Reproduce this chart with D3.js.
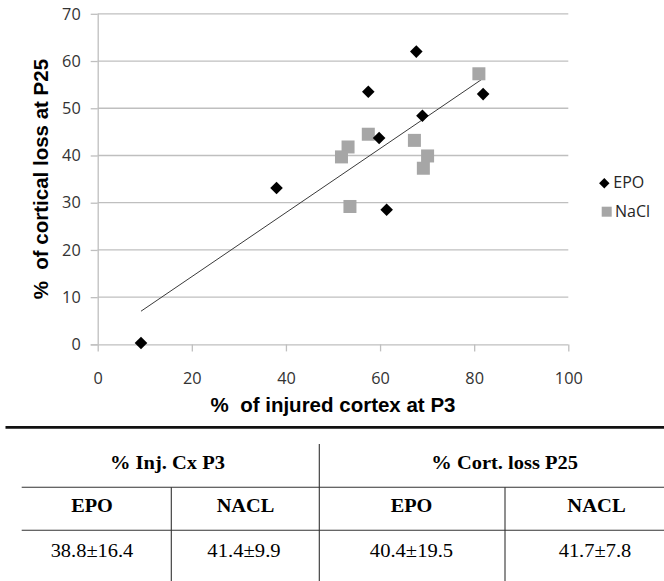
<!DOCTYPE html>
<html>
<head>
<meta charset="utf-8">
<script src="https://cdn.jsdelivr.net/npm/d3@7"></script>
<style>
  html, body { margin: 0; padding: 0; background: #fff; }
  svg { display: block; }
</style>
</head>
<body>
<svg id="chart" width="664" height="581"></svg>
<script>
// ---- data ----
const epoX = [9.2, 38.0, 57.5, 67.7, 81.9, 69.0, 59.8, 61.4];
const epoY = [0.3, 33.1, 53.5, 62.0, 53.0, 48.4, 43.7, 28.5];
const naclX = [81.0, 57.5, 53.2, 51.8, 67.3, 70.1, 69.2, 53.6];
const naclY = [57.3, 44.5, 41.8, 39.7, 43.2, 39.9, 37.3, 29.2];
const xTicks = [0, 20, 40, 60, 80, 100];
const yTicks = [0, 10, 20, 30, 40, 50, 60, 70];
const seriesNames = ["EPO", "NaCl"];
const xTitle = "%  of injured cortex at P3";
const yTitle = "%  of cortical loss at P25";
const tableGroups = ["% Inj. Cx P3", "% Cort. loss P25"];
const tableCols = ["EPO", "NACL", "EPO", "NACL"];
const tableValues = ["38.8±16.4", "41.4±9.9", "40.4±19.5", "41.7±7.8"];

const svg = d3.select("#chart");
const x = d3.scaleLinear().domain([0, 100]).range([97.7, 568.3]);
const y = d3.scaleLinear().domain([0, 70]).range([344.4, 13.8]);

const gridColor = "#bfbfbf";
const tickFont = "'Open Sans', 'Noto Sans', sans-serif";

// gridlines
svg.append("g").selectAll("line").data(yTicks.filter(d => d > 0)).join("line")
  .attr("x1", x(0)).attr("x2", x(100))
  .attr("y1", d => y(d)).attr("y2", d => y(d))
  .attr("stroke", gridColor).attr("stroke-width", 1.3);

// y axis
const yAxis = svg.append("g").attr("transform", `translate(${x(0)},0)`)
  .call(d3.axisLeft(y).tickValues(yTicks).tickSize(7).tickPadding(10));
// x axis
const xAxis = svg.append("g").attr("transform", `translate(0,${y(0)})`)
  .call(d3.axisBottom(x).tickValues(xTicks).tickSize(7).tickPadding(21));
[yAxis, xAxis].forEach(g => {
  g.select(".domain").attr("stroke", gridColor).attr("stroke-width", 1.3);
  g.selectAll(".tick line").attr("stroke", gridColor).attr("stroke-width", 1.3);
  g.selectAll(".tick text").attr("fill", "#333")
    .style("font-family", tickFont).style("font-size", "16.3px");
});
xAxis.select(".domain").attr("d", `M${x(0) - 7},0.5H${x(100)}`);
yAxis.select(".domain").attr("d", `M0.5,${y(70)}V${y(0)}`);

// trend line (OLS over all points)
const allX = epoX.concat(naclX), allY = epoY.concat(naclY);
const mx = d3.mean(allX), my = d3.mean(allY);
const slope = d3.sum(allX, (v, i) => (v - mx) * (allY[i] - my)) / d3.sum(allX, v => (v - mx) ** 2);
const icpt = my - slope * mx;
const [xmin, xmax] = d3.extent(allX);
svg.append("line")
  .attr("x1", x(xmin)).attr("y1", y(icpt + slope * xmin))
  .attr("x2", x(xmax)).attr("y2", y(icpt + slope * xmax))
  .attr("stroke", "#3a3a3a").attr("stroke-width", 1);

// markers
const sqColor = "#a6a6a6";
const diamond = (s) => `M0,${-s}L${s},0L0,${s}L${-s},0Z`;
svg.append("g").selectAll("rect").data(naclX.map((v, i) => [v, naclY[i]])).join("rect")
  .attr("x", d => x(d[0]) - 6.5).attr("y", d => y(d[1]) - 6.5)
  .attr("width", 13).attr("height", 13).attr("fill", sqColor);
svg.append("g").selectAll("path").data(epoX.map((v, i) => [v, epoY[i]])).join("path")
  .attr("transform", d => `translate(${x(d[0])},${y(d[1])})`)
  .attr("d", diamond(6.3)).attr("fill", "#000");

// legend
const lg = svg.append("g");
lg.append("path").attr("transform", "translate(604.3,183.3)").attr("d", diamond(5.2)).attr("fill", "#000");
lg.append("rect").attr("x", 601.7).attr("y", 206.7).attr("width", 10).attr("height", 10).attr("fill", sqColor);
lg.selectAll("text").data(seriesNames).join("text")
  .attr("x", (d, i) => i === 0 ? 613.3 : 615)
  .attr("y", (d, i) => i === 0 ? 188.3 : 216.7)
  .text(d => d)
  .style("font-family", tickFont).style("font-size", "16px").attr("fill", "#262626");

// axis titles
svg.append("text").attr("x", (x(0) + x(100)) / 2).attr("y", 411.7)
  .attr("text-anchor", "middle").style("white-space", "pre")
  .style("font-family", "'Liberation Sans', Arial, sans-serif").style("font-weight", "bold").style("font-size", "20.5px")
  .text(xTitle);
svg.append("text").attr("transform", `translate(47.5,${(y(0) + y(70)) / 2}) rotate(-90)`)
  .attr("text-anchor", "middle").style("white-space", "pre")
  .style("font-family", "'Liberation Sans', Arial, sans-serif").style("font-weight", "bold").style("font-size", "20.5px")
  .text(yTitle);

// ---- table ----
const tf = "'Liberation Serif', 'Times New Roman', serif";
const tbl = svg.append("g");
tbl.append("line").attr("x1", 5.5).attr("x2", 664).attr("y1", 427.3).attr("y2", 427.3)
  .attr("stroke", "#111").attr("stroke-width", 2.8);
[487.3, 530.3].forEach(yy => tbl.append("line").attr("x1", 21.7).attr("x2", 664)
  .attr("y1", yy).attr("y2", yy).attr("stroke", "#333").attr("stroke-width", 1.1));
tbl.append("line").attr("x1", 319.3).attr("x2", 319.3).attr("y1", 444).attr("y2", 581)
  .attr("stroke", "#333").attr("stroke-width", 1.1);
[171.3, 505].forEach(xx => tbl.append("line").attr("x1", xx).attr("x2", xx)
  .attr("y1", 487.3).attr("y2", 581).attr("stroke", "#333").attr("stroke-width", 1.1));
const groupCx = [167.5, 504.7];
const colCx = [92, 245.5, 411.5, 596.5];
// rendered widths (the source table is slightly stretched horizontally)
const groupW = [115, 146.7];
const colW = [41.7, 57.7, 41.7, 58.4];
const valW = [82.7, 73.3, 83.3, 72.7];
tbl.selectAll("text.g").data(tableGroups).join("text").attr("class", "g")
  .attr("x", (d, i) => groupCx[i] - groupW[i] / 2).attr("y", 469.3)
  .attr("textLength", (d, i) => groupW[i]).attr("lengthAdjust", "spacingAndGlyphs")
  .style("font-family", tf).style("font-weight", "bold").style("font-size", "19.5px").text(d => d);
tbl.selectAll("text.c").data(tableCols).join("text").attr("class", "c")
  .attr("x", (d, i) => colCx[i] - colW[i] / 2).attr("y", 512.3)
  .attr("textLength", (d, i) => colW[i]).attr("lengthAdjust", "spacingAndGlyphs")
  .style("font-family", tf).style("font-weight", "bold").style("font-size", "19.5px").text(d => d);
tbl.selectAll("text.v").data(tableValues).join("text").attr("class", "v")
  .attr("x", (d, i) => colCx[i] - (i % 2 ? 1.5 : 0) - valW[i] / 2).attr("y", 556.7)
  .attr("textLength", (d, i) => valW[i]).attr("lengthAdjust", "spacingAndGlyphs")
  .style("font-family", tf).style("font-size", "18.5px").text(d => d);
</script>
</body>
</html>
